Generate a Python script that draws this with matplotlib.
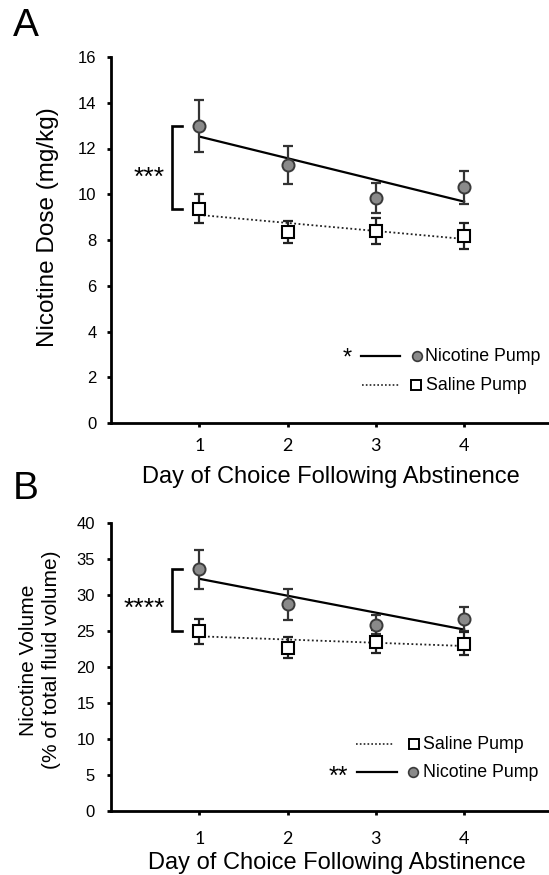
import numpy as np
import matplotlib
matplotlib.use("Agg")
import matplotlib.pyplot as plt

plt.rcParams['font.family'] = ['Liberation Sans', 'DejaVu Sans']

# ---------------- data ----------------
days = [1, 2, 3, 4]
x_ticklabels = ['1', '2', '3', '4']

dose_nicotine = [12.98, 11.28, 9.84, 10.30]
dose_nicotine_sem = [1.13, 0.83, 0.665, 0.71]
dose_saline = [9.36, 8.34, 8.41, 8.17]
dose_saline_sem = [0.63, 0.47, 0.57, 0.56]
dose_yticks = [0, 2, 4, 6, 8, 10, 12, 14, 16]

vol_nicotine = [33.6, 28.7, 25.9, 26.7]
vol_nicotine_sem = [2.7, 2.15, 1.3, 1.7]
vol_saline = [24.96, 22.7, 23.5, 23.2]
vol_saline_sem = [1.75, 1.4, 1.6, 1.6]
vol_yticks = [0, 5, 10, 15, 20, 25, 30, 35, 40]

W, H = 549, 875
fig = plt.figure(figsize=(W / 100, H / 100), dpi=100)


def ax_rect(left, right, top, bottom):
    return [left / W, 1 - bottom / H, (right - left) / W, (bottom - top) / H]


axA = fig.add_axes(ax_rect(111, 548, 57, 423))
axB = fig.add_axes(ax_rect(111, 548, 523, 811))

ERR_COL = '#333333'
NIC_FACE = '#8a8a8a'
NIC_EDGE = '#3a3a3a'


def star_text(x_px, y_px, s, size=18):
    # place asterisks so their glyph centre sits at the given pixel position
    em = size * 100 / 72.0
    base = y_px + 0.47 * em
    fig.text(x_px / W, 1 - base / H, s, ha='center', va='baseline', fontsize=size)


def draw_panel(ax, nic, nic_sem, sal, sal_sem, ylim, yticks, legend_rows, ypad, xpad):
    x = np.array(days, dtype=float)
    # regression lines
    pn = np.polyfit(x, nic, 1)
    ps = np.polyfit(x, sal, 1)
    ax.plot(x[[0, -1]], np.polyval(pn, x[[0, -1]]), color='black', lw=1.6, zorder=2)
    ax.plot(x[[0, -1]], np.polyval(ps, x[[0, -1]]), color='#222222', lw=1.3,
            ls=(0, (1, 1.4)), zorder=2)
    # error bars + markers
    ax.errorbar(x, nic, yerr=nic_sem, fmt='none', ecolor=ERR_COL, elinewidth=1.6,
                capsize=3.6, capthick=1.6, zorder=3)
    ax.errorbar(x, sal, yerr=sal_sem, fmt='none', ecolor='#222222', elinewidth=1.6,
                capsize=3.6, capthick=1.6, zorder=3)
    ax.plot(x, nic, 'o', ms=8.7, mfc=NIC_FACE, mec=NIC_EDGE, mew=1.4, zorder=4)
    ax.plot(x, sal, 's', ms=8.3, mfc='white', mec='black', mew=1.5, zorder=4)
    # significance bracket
    bx0, bx1 = 0.687, 0.80
    ax.plot([bx1, bx0, bx0, bx1], [nic[0], nic[0], sal[0], sal[0]], color='black',
            lw=1.9, solid_joinstyle='miter', zorder=2)

    ax.set_xlim(0, 4.95)
    ax.set_ylim(*ylim)
    ax.set_yticks(yticks)
    ax.set_xticks(days)
    ax.set_xticklabels(x_ticklabels, family=['Lato', 'DejaVu Sans'], fontsize=13)
    ax.tick_params(axis='y', labelsize=12, length=3, width=2, direction='out', pad=ypad)
    ax.tick_params(axis='x', length=3, width=2, direction='out', pad=xpad)
    for s in ['top', 'right']:
        ax.spines[s].set_visible(False)
    for s in ['left', 'bottom']:
        ax.spines[s].set_linewidth(2.0)
    ax.patch.set_alpha(0)

    # legend, drawn by hand
    for row in legend_rows:
        kind, yy, lx0, lx1, mx, tx, label = row
        if kind == 'nic':
            ax.plot([lx0, lx1], [yy, yy], transform=ax.transAxes, color='black',
                    lw=1.6, clip_on=False)
            ax.plot([mx], [yy], 'o', transform=ax.transAxes, ms=7, mfc=NIC_FACE,
                    mec=NIC_EDGE, mew=1.2, clip_on=False)
        else:
            ax.plot([lx0, lx1], [yy, yy], transform=ax.transAxes, color='#222222',
                    lw=1.2, ls=(0, (1, 1.3)), clip_on=False)
            ax.plot([mx], [yy], 's', transform=ax.transAxes, ms=7, mfc='white',
                    mec='black', mew=1.4, clip_on=False)
        ax.text(tx, yy, label, transform=ax.transAxes, ha='left', va='center',
                fontsize=12.8)


legA = [
    ('nic', 0.183, 0.572, 0.661, 0.700, 0.7185, 'Nicotine Pump'),
    ('sal', 0.1025, 0.574, 0.659, 0.698, 0.720, 'Saline Pump'),
]
draw_panel(axA, dose_nicotine, dose_nicotine_sem, dose_saline, dose_saline_sem,
           (0, 16), dose_yticks, legA, 7.5, 7.5)

legB = [
    ('sal', 0.2326, 0.561, 0.648, 0.694, 0.713, 'Saline Pump'),
    ('nic', 0.134, 0.562, 0.654, 0.692, 0.713, 'Nicotine Pump'),
]
draw_panel(axB, vol_nicotine, vol_nicotine_sem, vol_saline, vol_saline_sem,
           (0, 40), vol_yticks, legB, 8.5, 11.5)

# significance asterisks
star_text(149, 172, '***', 19)
star_text(144, 603, '****', 19)
star_text(347, 353, '*', 17)
star_text(338, 772, '**', 18)

# axis labels & panel letters
fig.text(48 / W, 1 - 227 / H, 'Nicotine Dose (mg/kg)', rotation=90, ha='center',
         va='center', fontsize=17.5)
fig.text(331 / W, 1 - 477 / H, 'Day of Choice Following Abstinence', ha='center',
         va='center', fontsize=17)
fig.text(40 / W, 1 - 660 / H, 'Nicotine Volume\n(% of total fluid volume)', rotation=90,
         ha='center', va='center', fontsize=15, multialignment='center',
         linespacing=1.25)
fig.text(337 / W, 1 - 863 / H, 'Day of Choice Following Abstinence', ha='center',
         va='center', fontsize=17)
fig.text(26 / W, 1 - 26 / H, 'A', ha='center', va='center', fontsize=28)
fig.text(26 / W, 1 - 489 / H, 'B', ha='center', va='center', fontsize=28)

fig.savefig('out.png', dpi=100)
